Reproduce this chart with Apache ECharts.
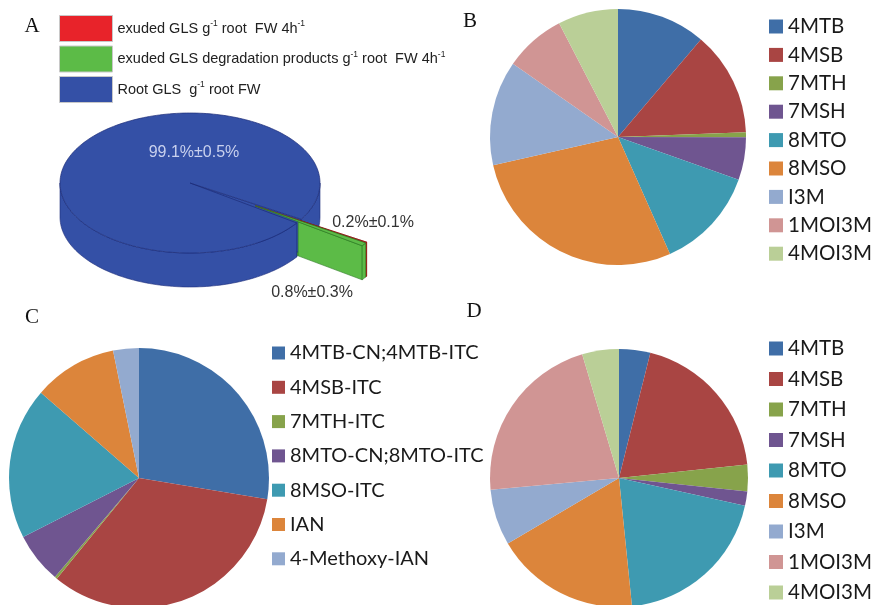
<!DOCTYPE html>
<html><head><meta charset="utf-8">
<script src="https://cdn.jsdelivr.net/npm/echarts@6/dist/echarts.min.js"></script>
<style>html,body{margin:0;padding:0;background:#fff}#c{width:875px;height:605px}</style>
</head><body><div id="c"></div>
<script>
// ---------- Panel A ----------
const aNames = ['exuded GLS g-1 root  FW 4h-1', 'exuded GLS degradation products g-1 root  FW 4h-1', 'Root GLS  g-1 root FW'];
const aValues = [0.2, 0.8, 99.1];
const aErrors = [0.1, 0.3, 0.5];
const aColors = ['#E8232A', '#5CBB47', '#3450A6'];
const aStrokes = ['#8A1010', '#2E7A25', '#1C2C78'];

// ---------- Panel B ----------
const bNames = ['4MTB', '4MSB', '7MTH', '7MSH', '8MTO', '8MSO', 'I3M', '1MOI3M', '4MOI3M'];
const bValues = [11.2, 13.2, 0.6, 5.4, 12.9, 28.1, 13.2, 7.7, 7.6];

// ---------- Panel C ----------
const cNames = ['4MTB-CN;4MTB-ITC', '4MSB-ITC', '7MTH-ITC', '8MTO-CN;8MTO-ITC', '8MSO-ITC', 'IAN', '4-Methoxy-IAN'];
const cValues = [27.6, 33.3, 0.3, 6.3, 18.9, 10.4, 3.2];

// ---------- Panel D ----------
const dNames = ['4MTB', '4MSB', '7MTH', '7MSH', '8MTO', '8MSO', 'I3M', '1MOI3M', '4MOI3M'];
const dValues = [3.9, 19.4, 3.3, 1.8, 19.9, 18.1, 7.0, 21.8, 4.6];

const colors9 = ['#3F6EA7', '#A94543', '#87A34B', '#6F5590', '#3E9AB1', '#DC853B', '#93AACF', '#D09594', '#BACF97'];
const colors7 = ['#3F6EA7', '#A94543', '#87A34B', '#6F5590', '#3E9AB1', '#DC853B', '#93AACF'];

// ---------- 3D pie geometry (layout) ----------
const G = { cx: 190, cy: 183, rx: 130, ry: 70, h: 34, gapMidDeg: -33, explode: 0.6 };
const DEG = Math.PI / 180;

function frontSegments(a0, a1) { // a0 > a1, parts where sin < 0 (front of the cylinder)
  const segs = [];
  for (let k = -2; k <= 2; k++) {
    const hi = -360 * k * DEG, lo = (-180 - 360 * k) * DEG;
    const s = Math.min(a0, hi), e = Math.max(a1, lo);
    if (s > e) segs.push([s, e]);
  }
  return segs;
}

function makeRender(i) {
  return function (params, api) {
    const total = aValues.reduce((s, v) => s + v, 0);
    let cum = 0;
    for (let k = 0; k < i; k++) cum += aValues[k];
    const v = api.value(0);
    const explodedSpan = (aValues[0] + aValues[1]) / total * 2 * Math.PI;
    const gapMid = G.gapMidDeg * DEG;
    const start = gapMid + explodedSpan / 2;
    const a0 = start - cum / total * 2 * Math.PI;
    const a1 = start - (cum + v) / total * 2 * Math.PI;
    const isExpl = i < 2;
    const ex = isExpl ? G.explode * Math.cos(gapMid) : 0;
    const ey = isExpl ? G.explode * Math.sin(gapMid) : 0;
    const P = (t, u, z) => [G.cx + (ex + u * Math.cos(t)) * G.rx, G.cy - (ey + u * Math.sin(t)) * G.ry + z];
    const arc = (s, e, z) => {
      const n = Math.max(2, Math.ceil(Math.abs(s - e) / (1.5 * DEG)));
      const pts = [];
      for (let j = 0; j <= n; j++) pts.push(P(s + (e - s) * j / n, 1, z));
      return pts;
    };
    const fill = aColors[i], stroke = aStrokes[i];
    const children = [];
    const face = (a, u0, u1, z2) => children.push({ type: 'polygon', z2: z2,
      shape: { points: [P(a, u0, 0), P(a, u1, 0), P(a, u1, G.h), P(a, u0, G.h)] },
      style: { fill: fill, stroke: stroke, lineWidth: 0.6 } });
    // radial cut faces
    [a0, a1].forEach(a => {
      if (isExpl) {
        // split where the face leaves the footprint of the main body
        const ed = ex * Math.cos(a) + ey * Math.sin(a);
        const uExit = -ed + Math.sqrt(ed * ed - (ex * ex + ey * ey) + 1);
        face(a, 0, uExit, 0.5);   // hidden behind the main body
        face(a, uExit, 1, 2);     // in front of the main body wall
      } else {
        face(a, 0, 1, 1);
      }
    });
    // outer walls (front part)
    frontSegments(a0, a1).forEach(([s, e]) => {
      const pts = arc(s, e, 0).concat(arc(e, s, G.h));
      children.push({ type: 'polygon', z2: isExpl ? 2.5 : 1.5, shape: { points: pts },
        style: { fill: fill, stroke: stroke, lineWidth: 0.6 } });
    });
    // top face
    children.push({ type: 'polygon', z2: isExpl ? 4 : 3, shape: { points: [P(0, 0, 0)].concat(arc(a0, a1, 0)) },
      style: { fill: fill, stroke: stroke, lineWidth: 0.7 } });
    // label
    const txt = aValues[i] + '%\u00B1' + aErrors[i] + '%';
    let lx, ly, al = 'center', lc = '#333';
    const mid = (a0 + a1) / 2;
    if (i === 2) { const p = P(90 * DEG, 0.45, 0); lx = p[0] + 4; ly = p[1] + 1; lc = '#C9D1EE'; }
    else if (i === 0) { const p = P(mid, 1, 0); lx = p[0] - 34; ly = p[1] - 20; al = 'left'; }
    else { const p = P(mid, 1, G.h); lx = p[0] - 52; ly = p[1] + 14; }
    children.push({ type: 'text', z2: 6, style: { text: txt, x: lx, y: ly, fill: lc, fontSize: 16,
      fontFamily: 'Liberation Sans', align: al, verticalAlign: 'middle' } });
    return { type: 'group', children: children };
  };
}

const aSeries = aNames.map((n, i) => ({
  type: 'custom', name: n, coordinateSystem: 'none', silent: true,
  itemStyle: { color: aColors[i] },
  data: [[aValues[i]]],
  renderItem: makeRender(i)
}));

function pieSeries(names, values, cols, center, radius) {
  return {
    type: 'pie', center: center, radius: radius, startAngle: 90, clockwise: true, silent: true,
    label: { show: false }, labelLine: { show: false }, emphasis: { disabled: true },
    itemStyle: { borderWidth: 0 },
    data: names.map((n, i) => ({ name: n, value: values[i], itemStyle: { color: cols[i] } }))
  };
}

function supFmt(name) {
  return name.split(/(-1)/).filter(p => p !== '').map(p => p === '-1' ? '{s|-1}' : '{t|' + p + '}').join('');
}

const legTxtBD = { fontFamily: 'Lato', fontSize: 20.5, color: '#1a1a1a', lineHeight: 20 };
const legTxtC = { fontFamily: 'Lato', fontSize: 20, color: '#1a1a1a', lineHeight: 20 };
const letter = (t, x, y) => ({ type: 'text', style: { text: t, x: x, y: y, fontFamily: 'Liberation Serif', fontSize: 21, fill: '#111', align: 'center', verticalAlign: 'middle' } });

const option = {
  animation: false,
  backgroundColor: '#fff',
  graphic: [letter('A', 32, 26), letter('B', 470, 21), letter('C', 32, 317), letter('D', 474, 311)],
  legend: [
    { data: aNames, orient: 'vertical', left: 59, top: 15, padding: 0, icon: 'rect', itemWidth: 53, itemHeight: 26, itemGap: 3.5,
      selectedMode: false, itemStyle: { borderColor: '#c8c8c8', borderWidth: 1 },
      formatter: supFmt,
      textStyle: { rich: {
        t: { fontFamily: 'Liberation Sans', fontSize: 14.5, color: '#222', lineHeight: 18 },
        s: { fontFamily: 'Liberation Sans', fontSize: 8.5, color: '#222', lineHeight: 18, verticalAlign: 'top', padding: [0, 0, 7, 0] }
      } } },
    { data: bNames, orient: 'vertical', left: 769, top: 16, height: 300, padding: 0, icon: 'rect', itemWidth: 14, itemHeight: 14, itemGap: 7.4,
      selectedMode: false, textStyle: legTxtBD },
    { data: cNames, orient: 'vertical', left: 272, top: 343, height: 300, padding: 0, icon: 'rect', itemWidth: 13, itemHeight: 13, itemGap: 14.3,
      selectedMode: false, textStyle: legTxtC },
    { data: dNames, orient: 'vertical', left: 769, top: 338, height: 320, padding: 0, icon: 'rect', itemWidth: 14, itemHeight: 14, itemGap: 9.5,
      selectedMode: false, textStyle: legTxtBD }
  ],
  series: aSeries.concat([
    pieSeries(bNames, bValues, colors9, [618, 137], 128),
    pieSeries(cNames, cValues, colors7, [139, 478], 130),
    pieSeries(dNames, dValues, colors9, [619, 478], 129)
  ])
};

const chart = echarts.init(document.getElementById('c'), null, { renderer: 'canvas' });
chart.setOption(option);
</script></body></html>
